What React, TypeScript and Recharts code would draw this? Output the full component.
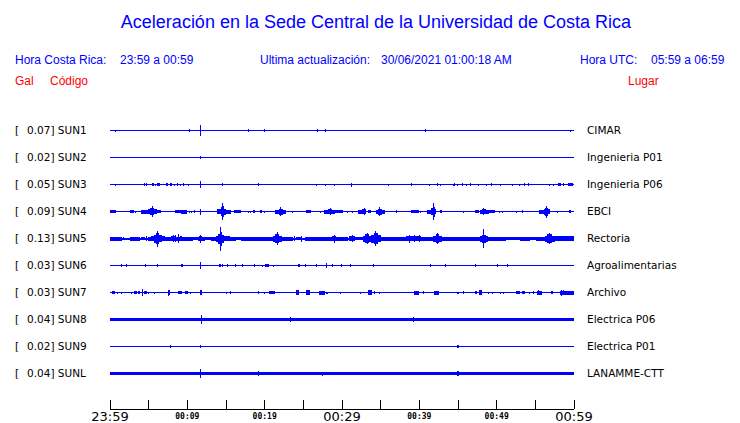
import { ComposedChart, Area, XAxis, YAxis } from 'recharts';

const codes = ['SUN1', 'SUN2', 'SUN3', 'SUN4', 'SUN5', 'SUN6', 'SUN7', 'SUN8', 'SUN9', 'SUNL'];
const peaks = ['0.07', '0.02', '0.05', '0.09', '0.13', '0.03', '0.03', '0.04', '0.02', '0.04'];
const places = [
  'CIMAR', 'Ingenieria P01', 'Ingenieria P06', 'EBCI', 'Rectoria',
  'Agroalimentarias', 'Archivo', 'Electrica P06', 'Electrica P01', 'LANAMME-CTT',
];

// resting half-thickness of each trace (px)
const restHalf = [0.5, 0.5, 0.5, 0.5, 1, 0.5, 0.5, 1.5, 0.5, 1.5];

// [from minute, to minute, half amplitude px]; from === to is a single spike
type Ev = [number, number, number];

const sun1: Ev[] = [
  [0.7, 0.7, 1], [10.27, 10.27, 1.5], [11.6, 11.8, 3.5], [11.69, 11.69, 5.5],
  [17.85, 17.85, 1.5], [19.92, 19.92, 1.5], [26.77, 26.77, 1.5], [27.75, 27.95, 1.5],
  [40.86, 40.86, 1.5], [59.58, 59.58, 1],
];
const sun2: Ev[] = [[11.62, 11.8, 1.5]];
const sun3: Ev[] = [
  [0.7, 0.7, 1], [4.4, 4.4, 1.5], [4.65, 4.75, 1.5], [5.56, 5.56, 1.5], [5.87, 5.87, 1],
  [6.13, 6.43, 1.5], [7.29, 7.5, 1.5], [7.76, 8.07, 1.5], [8.37, 8.37, 1], [8.66, 8.85, 1.5],
  [9.14, 9.14, 1], [9.44, 9.62, 1.5], [10.09, 10.09, 1], [11.6, 11.8, 2.5], [11.69, 11.69, 3.5],
  [14.61, 14.61, 1.5], [19.14, 19.14, 1.5], [26.64, 26.64, 1], [27.93, 27.93, 1], [28.97, 28.97, 1],
  [31.22, 31.35, 2], [35.95, 35.95, 1], [38.89, 39.1, 1.5], [41.34, 41.34, 1], [42.34, 42.34, 1.5],
  [42.73, 42.73, 1], [44.36, 44.36, 1], [44.61, 44.61, 1.5], [44.96, 44.96, 1], [45.48, 45.7, 1.5],
  [46.09, 46.09, 1], [46.6, 46.6, 1.5], [47.59, 47.59, 1], [48.67, 48.67, 1], [49.32, 49.32, 1.5],
  [50.48, 50.48, 1], [52.11, 52.11, 1], [52.98, 52.98, 1], [53.54, 53.67, 1.5], [54.14, 54.14, 1.5],
  [56.77, 56.77, 1], [57.29, 57.29, 1], [57.93, 58.28, 1.5], [58.67, 58.67, 1.5], [59.23, 59.87, 1.5],
];
const sun4: Ev[] = [
  [0, 0.74, 1.5], [2.55, 3.06, 1.5], [3.28, 3.28, 1], [4.06, 4.9, 2], [4.9, 5.2, 2.5],
  [5.2, 5.75, 3.5], [5.48, 5.48, 5.5], [5.75, 6.1, 2.5], [6.1, 6.64, 1.5], [8.37, 9.23, 1.5],
  [9.23, 10.01, 2], [10.22, 10.22, 1], [10.52, 10.52, 1], [10.86, 11.04, 1.5], [11.69, 11.69, 3],
  [13.8, 14.3, 2.5], [14.3, 14.5, 4.5], [14.5, 14.75, 5.5], [14.61, 14.61, 8.5], [14.75, 15.0, 3],
  [15.0, 15.7, 2], [16.03, 16.99, 1.5], [17.85, 17.85, 1], [18.16, 18.16, 1], [18.49, 18.71, 1.5],
  [19.36, 19.66, 1.5], [19.92, 19.92, 1], [21.3, 21.8, 2], [21.8, 22.35, 3], [22.07, 22.07, 4.5],
  [22.35, 22.81, 2], [23.66, 23.66, 1], [25.31, 26.04, 1.5], [27.21, 27.21, 1], [27.67, 28.2, 2],
  [28.2, 28.7, 2.5], [28.45, 28.45, 3.5], [28.7, 29.06, 2], [29.06, 30.18, 1.5], [30.65, 30.65, 1],
  [31.42, 31.42, 1], [32.07, 32.6, 2], [32.6, 33.1, 2.5], [32.85, 32.85, 3.5], [33.36, 33.8, 1.5],
  [34.36, 34.6, 2], [34.6, 35.15, 3], [34.88, 34.88, 4.5], [35.15, 35.53, 2], [37.04, 37.04, 1.5],
  [38.98, 39.96, 1.5], [40.18, 40.18, 1], [40.99, 41.5, 2], [41.5, 41.75, 3.5], [41.75, 42.0, 5],
  [41.86, 41.86, 8.5], [42.0, 42.21, 2.5], [42.64, 42.93, 1.5], [45.74, 45.74, 1], [47.16, 47.72, 1.5],
  [47.81, 48.1, 2], [48.1, 48.6, 2.5], [48.33, 48.33, 3.5], [48.6, 49.01, 2], [49.01, 49.75, 1.5],
  [50.39, 50.39, 1], [50.74, 50.74, 1], [52.55, 52.55, 1], [53.33, 53.33, 1.5], [55.48, 56.1, 2],
  [56.1, 56.3, 3], [56.3, 56.6, 4], [56.43, 56.43, 6], [56.6, 56.86, 2.5], [57.93, 57.93, 1],
  [59.36, 59.66, 1.5],
];
const sun5: Ev[] = [
  [0, 1.55, 2], [1.77, 1.77, 1.5], [2.55, 3.84, 2], [3.97, 4.49, 1.5], [4.71, 4.71, 2.5],
  [4.91, 5.35, 2], [5.35, 5.7, 2.5], [5.7, 5.95, 4], [5.95, 6.35, 5.5], [6.13, 6.13, 8],
  [6.35, 6.7, 3.5], [6.7, 7.1, 2.5], [7.1, 7.94, 2], [7.94, 8.59, 2.5], [8.2, 8.2, 3.5],
  [8.5, 8.5, 3.5], [8.59, 9.01, 2], [8.88, 8.88, 4.5], [9.01, 9.31, 2.5], [9.31, 10.73, 2],
  [10.73, 11.38, 1.5], [11.38, 12.25, 2], [11.5, 11.9, 2.5], [11.69, 11.69, 4], [12.25, 13.11, 1.5],
  [13.11, 13.7, 2], [13.7, 14.0, 3], [14.0, 14.2, 5], [14.2, 14.5, 7], [14.32, 14.32, 12],
  [14.5, 14.8, 4], [14.8, 15.5, 2.5], [15.5, 16.34, 2], [16.34, 16.99, 1.5], [16.99, 21.1, 2],
  [21.1, 21.4, 3], [21.4, 21.9, 4.5], [21.64, 21.64, 6.5], [21.9, 22.3, 3], [22.3, 23.66, 2],
  [23.88, 23.88, 2.5], [24.1, 24.75, 1.5], [24.75, 24.75, 3], [25.18, 27.76, 2], [27.76, 28.7, 2],
  [28.7, 29.2, 2.5], [28.97, 28.97, 4], [29.2, 30.78, 2], [30.91, 31.64, 2.5], [31.35, 31.35, 3.5],
  [31.64, 32.7, 1.5], [32.7, 33.0, 3], [33.0, 33.5, 4.5], [33.24, 33.24, 5.5], [33.5, 33.8, 3],
  [33.8, 34.1, 4], [34.1, 34.6, 5.5], [34.36, 34.36, 7.5], [34.6, 35.1, 3.5], [35.1, 38.33, 2],
  [38.33, 40.27, 2.5], [38.76, 38.76, 4], [39.4, 39.4, 3.5], [40.05, 40.05, 3.5], [40.27, 41.8, 2],
  [41.8, 42.1, 3], [42.1, 42.6, 4.5], [42.34, 42.34, 5.5], [42.6, 42.9, 3], [42.9, 44.15, 2],
  [44.15, 45.87, 2], [45.87, 47.8, 2], [47.8, 48.1, 3], [48.1, 48.6, 4], [48.36, 48.36, 9.5],
  [48.6, 48.9, 3], [48.9, 51.26, 2], [51.26, 52.98, 1.5], [52.98, 54.27, 2], [54.27, 55.14, 1.5],
  [55.14, 56.2, 2], [56.2, 56.5, 3], [56.5, 57.1, 4.5], [56.86, 56.86, 5.5], [57.1, 57.5, 3],
  [57.5, 60, 2.5],
];
const sun6: Ev[] = [
  [1.55, 1.55, 1.5], [2.12, 2.12, 1.5], [4.58, 4.58, 1.5], [6.05, 6.2, 1.5], [9.31, 9.31, 1.5],
  [11.69, 11.69, 3.5], [14.1, 14.41, 1.5], [14.61, 14.61, 1.5], [15.22, 15.22, 1.5], [16.15, 16.3, 1.5],
  [17.16, 17.16, 1.5], [18.67, 18.67, 1.5], [19.66, 19.66, 1], [20.1, 20.52, 1.5], [21.08, 21.08, 1],
  [24.31, 24.62, 1.5], [25.27, 25.27, 1.5], [26.62, 26.76, 1.5], [27.98, 27.98, 2.5], [28.8, 28.8, 1.5],
  [29.9, 30.05, 1.5], [31.09, 31.09, 1.5], [34.03, 34.17, 1.5], [41.43, 41.43, 1.5], [43.34, 43.48, 1.5],
  [47.2, 47.2, 1.5], [50.17, 50.17, 1.5], [51.34, 51.34, 1.5],
];
const sun7: Ev[] = [
  [0.26, 0.61, 1.5], [0.91, 0.91, 1], [1.55, 1.55, 1], [2.77, 2.77, 1], [3.1, 3.49, 1.5],
  [3.75, 3.75, 1.5], [4.14, 4.14, 3.5], [4.4, 4.84, 1.5], [5.0, 5.0, 1], [5.69, 5.69, 1],
  [7.5, 7.76, 2.5], [7.6, 7.6, 3], [8.79, 9.31, 1.5], [9.66, 10.09, 1.5], [10.35, 10.35, 1],
  [11.69, 11.9, 2.5], [15.05, 15.05, 1], [15.5, 15.64, 1.5], [19.14, 19.14, 1.5], [19.92, 19.92, 1],
  [20.52, 21.39, 1.5], [24.1, 24.4, 2.5], [25.31, 25.82, 2.5], [26.99, 27.76, 2], [28.06, 28.06, 1],
  [29.77, 29.77, 1], [32.38, 32.38, 1], [33.36, 33.93, 2.5], [34.14, 34.14, 1.5], [34.79, 34.79, 1],
  [35.3, 35.3, 0.5], [35.52, 35.52, 0.5], [39.27, 39.92, 2], [40.57, 40.57, 1.5], [41.86, 42.51, 2],
  [45.0, 45.0, 1], [45.74, 45.74, 1.5], [47.16, 47.46, 1.5], [47.72, 48.16, 2.5], [48.97, 48.97, 1],
  [49.49, 49.49, 1], [50.48, 50.48, 1], [50.82, 50.82, 1], [52.46, 52.98, 1.5], [53.24, 53.63, 1.5],
  [54.27, 54.27, 1], [54.7, 54.7, 1.5], [55.27, 55.86, 2], [55.35, 55.35, 2.5], [56.99, 57.29, 1.5],
  [58.15, 60, 2], [58.37, 58.37, 3], [58.67, 58.67, 2.5],
];
const sun8: Ev[] = [[11.82, 11.82, 4.5], [23.28, 23.28, 2.5], [39.27, 39.27, 2.5]];
const sun9: Ev[] = [[7.76, 7.76, 1.5], [11.62, 11.76, 1.5], [45.0, 45.0, 1.5]];
const sunl: Ev[] = [[11.69, 11.69, 4.5], [19.14, 19.14, 2.5], [27.42, 27.42, 2], [45.0, 45.0, 2.5]];

const traces = [sun1, sun2, sun3, sun4, sun5, sun6, sun7, sun8, sun9, sunl];

const tickMinutes = [0, 5, 10, 15, 20, 25, 30, 35, 40, 45, 50, 55, 60];
const tickLabels = ['23:59', '', '00:09', '', '00:19', '', '00:29', '', '00:39', '', '00:49', '', '00:59'];
const bigTicks = ['23:59', '00:29', '00:59'];

const FIRST_ROW = 130.5;
const ROW_GAP = 27;
const rowBase = (i: number) => FIRST_ROW + i * ROW_GAP;
const BLUE = '#0000ff';

// turn events into a stepped envelope around the baseline
function buildTrace(events: Ev[], half: number, base: number) {
  const segs = events.map(([a, b, h]) => (a === b ? [a - 0.065, b + 0.065, h] : [a, b, h]));
  const cuts = [0, 60];
  segs.forEach(s => cuts.push(Math.max(0, s[0]), Math.min(60, s[1])));
  const xs = Array.from(new Set(cuts)).sort((p, q) => p - q);
  const pts: { t: number; v: number[] }[] = [];
  for (let i = 0; i < xs.length - 1; i++) {
    const mid = (xs[i] + xs[i + 1]) / 2;
    let h = half;
    segs.forEach(s => {
      if (s[0] <= mid && mid <= s[1]) h = Math.max(h, s[2]);
    });
    pts.push({ t: xs[i], v: [base - h, base + h] }, { t: xs[i + 1], v: [base - h, base + h] });
  }
  return pts;
}

const traceData = traces.map((ev, i) => buildTrace(ev, restHalf[i], rowBase(i)));
const rowTicks = codes.map((_, i) => rowBase(i));

const labelFont = { fontFamily: 'DejaVu Sans', fontSize: 10.5, fill: '#000' };

const rowIndex = (v: number) => Math.round((v - FIRST_ROW) / ROW_GAP);

const LeftTick = (props: any) => {
  const i = rowIndex(props.payload.value);
  return (
    <g>
      <text x={15} y={props.y + 3.5} {...labelFont}>[</text>
      <text x={27} y={props.y + 3.5} {...labelFont}>{`${peaks[i]}] ${codes[i]}`}</text>
    </g>
  );
};

const RightTick = (props: any) => {
  const i = rowIndex(props.payload.value);
  return (
    <text x={587} y={props.y + 3.5} {...labelFont}>{places[i]}</text>
  );
};

const TimeTick = (props: any) => {
  const { x, y, index } = props;
  const label = tickLabels[index];
  const big = bigTicks.includes(label);
  return (
    <g>
      <line x1={x} x2={x} y1={y - 9} y2={y} stroke="#000" shapeRendering="crispEdges" />
      {label && (
        <text
          x={x}
          y={big ? y + 12 : y + 10}
          textAnchor="middle"
          fontFamily={big ? 'DejaVu Sans' : 'DejaVu Sans Mono'}
          fontWeight={big ? 400 : 700}
          fontSize={big ? 13 : 8}
          fill="#000"
        >
          {label}
        </text>
      )}
    </g>
  );
};

const headText = { position: 'absolute' as const, fontFamily: 'Liberation Sans', whiteSpace: 'pre' as const, lineHeight: 1 };

export default function App() {
  return (
    <div style={{ position: 'absolute', left: 0, top: 0, width: 740, height: 423, background: '#fff' }}>
      <div style={{ ...headText, left: 0, width: 752, top: 13, fontSize: 18, color: BLUE, textAlign: 'center' }}>
        Aceleración en la Sede Central de la Universidad de Costa Rica
      </div>
      <div style={{ ...headText, left: 15, top: 54, fontSize: 12, color: BLUE }}>Hora Costa Rica:</div>
      <div style={{ ...headText, left: 120, top: 54, fontSize: 12, color: BLUE }}>23:59 a 00:59</div>
      <div style={{ ...headText, left: 260, top: 54, fontSize: 12, color: BLUE }}>Ultima actualización:</div>
      <div style={{ ...headText, left: 381, top: 54, fontSize: 12, color: BLUE }}>30/06/2021 01:00:18 AM</div>
      <div style={{ ...headText, left: 580, top: 54, fontSize: 12, color: BLUE }}>Hora UTC:</div>
      <div style={{ ...headText, left: 651, top: 54, fontSize: 12, color: BLUE }}>05:59 a 06:59</div>
      <div style={{ ...headText, left: 15, top: 75, fontSize: 12, color: '#ff0000' }}>Gal</div>
      <div style={{ ...headText, left: 50, top: 75, fontSize: 12, color: '#ff0000' }}>Código</div>
      <div style={{ ...headText, left: 628, top: 75, fontSize: 12, color: '#ff0000' }}>Lugar</div>

      <div style={{ position: 'absolute', left: 0, top: 0 }}>
        <ComposedChart width={740} height={423} margin={{ top: 0, right: 0, bottom: 0, left: 0 }}>
          <XAxis
            dataKey="t"
            type="number"
            domain={[0, 60]}
            allowDataOverflow
            ticks={tickMinutes}
            interval={0}
            height={14}
            tickSize={0}
            tickMargin={0}
            tickLine={false}
            axisLine={{ stroke: '#000', shapeRendering: 'crispEdges' }}
            tick={<TimeTick />}
          />
          <YAxis
            yAxisId="l"
            type="number"
            domain={[0, 409]}
            reversed
            allowDataOverflow
            width={110}
            ticks={rowTicks}
            interval={0}
            axisLine={false}
            tickLine={false}
            tick={<LeftTick />}
          />
          <YAxis
            yAxisId="r"
            orientation="right"
            type="number"
            domain={[0, 409]}
            reversed
            allowDataOverflow
            width={166}
            ticks={rowTicks}
            interval={0}
            axisLine={false}
            tickLine={false}
            tick={<RightTick />}
          />
          {traceData.map((d, i) => (
            <Area
              key={codes[i]}
              yAxisId="l"
              data={d}
              dataKey="v"
              type="linear"
              stroke="none"
              fill={BLUE}
              fillOpacity={1}
              shapeRendering="crispEdges"
              isAnimationActive={false}
              dot={false}
              activeDot={false}
            />
          ))}
        </ComposedChart>
      </div>
    </div>
  );
}
